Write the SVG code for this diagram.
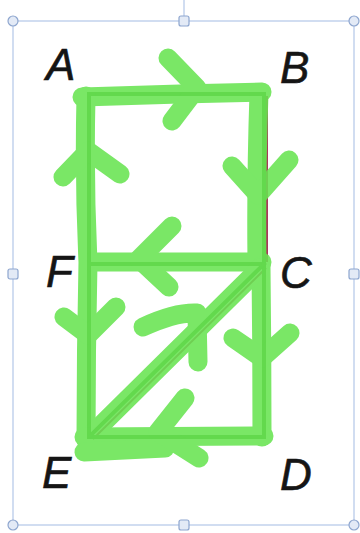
<svg xmlns="http://www.w3.org/2000/svg" width="360" height="533" viewBox="0 0 360 533">
<style>
.sel{fill:none;stroke:#b3c7e8;stroke-width:1.2}
.hc{fill:#e3eaf6;stroke:#8ea6cf;stroke-width:1.2}
.edge{fill:none;stroke:#3f8a2c;stroke-width:4;stroke-linecap:square}
.red{fill:none;stroke:#a8385a;stroke-width:2}
.hl{fill:none;stroke:#68e452;stroke-width:19;stroke-linecap:round;stroke-linejoin:round}
.lbl{font-family:"Liberation Sans",Arial,sans-serif;font-style:italic;font-size:44px;fill:#151515;stroke:#151515;stroke-width:0.6}
</style>
<rect width="360" height="533" fill="#ffffff"/>
<g id="selection">
<line class="sel" x1="184" y1="0" x2="184" y2="16"/>
<rect class="sel" x="13" y="21" width="341" height="504"/>
<circle class="hc" cx="13" cy="21" r="5"/>
<circle class="hc" cx="354" cy="21" r="5"/>
<circle class="hc" cx="13" cy="525" r="5"/>
<circle class="hc" cx="354" cy="525" r="5"/>
<rect class="hc" x="179" y="16" width="10" height="10" rx="2"/>
<rect class="hc" x="179" y="520" width="10" height="10" rx="2"/>
<rect class="hc" x="8" y="269" width="10" height="10" rx="2"/>
<rect class="hc" x="349" y="269" width="10" height="10" rx="2"/>
</g>
<g id="connectors">
<line class="red" x1="267" y1="96" x2="267" y2="262"/>
<line class="red" x1="266" y1="268" x2="93" y2="439"/>
<line class="edge" x1="89" y1="94" x2="264" y2="94"/>
<line class="edge" x1="264" y1="94" x2="264" y2="437"/>
<line class="edge" x1="89" y1="94" x2="89" y2="437"/>
<line class="edge" x1="89" y1="264" x2="264" y2="264"/>
<line class="edge" x1="89" y1="437" x2="264" y2="437"/>
<line class="edge" x1="264" y1="264" x2="90" y2="436"/>
</g>
<g id="highlights" opacity="0.88">
<path class="hl" d="M82 97 L180 94 L262 92"/>
<path class="hl" d="M86 96 Q84 180 88 262 Q86 350 86 440"/>
<path class="hl" d="M259 93 Q256 180 257 262"/>
<path class="hl" d="M92 262 L262 262"/>
<path class="hl" d="M261 266 Q262 350 262 437"/>
<path class="hl" d="M260 268 L92 434"/>
<path class="hl" d="M84 437 L264 436"/>
<path class="hl" d="M84 452 L165 448"/>
<path class="hl" d="M168 58 L197 88 L172 121"/>
<path class="hl" d="M63 177 L88 151 L120 174"/>
<path class="hl" d="M232 166 L258 195 L289 160"/>
<path class="hl" d="M172 226 L139 259 L169 287"/>
<path class="hl" d="M64 317 L88 335 L116 307"/>
<path class="hl" d="M233 338 L262 358 L290 333"/>
<path class="hl" d="M143 327 Q175 312 197 313 L198 362"/>
<path class="hl" d="M185 398 L158 432 L199 458"/>
</g>
<g id="node-A"><text class="lbl" x="46" y="80">A</text></g>
<g id="node-B"><text class="lbl" x="280" y="83">B</text></g>
<g id="node-F"><text class="lbl" x="46" y="287">F</text></g>
<g id="node-C"><text class="lbl" x="280" y="288">C</text></g>
<g id="node-E"><text class="lbl" x="42" y="488">E</text></g>
<g id="node-D"><text class="lbl" x="280" y="490">D</text></g>
</svg>
